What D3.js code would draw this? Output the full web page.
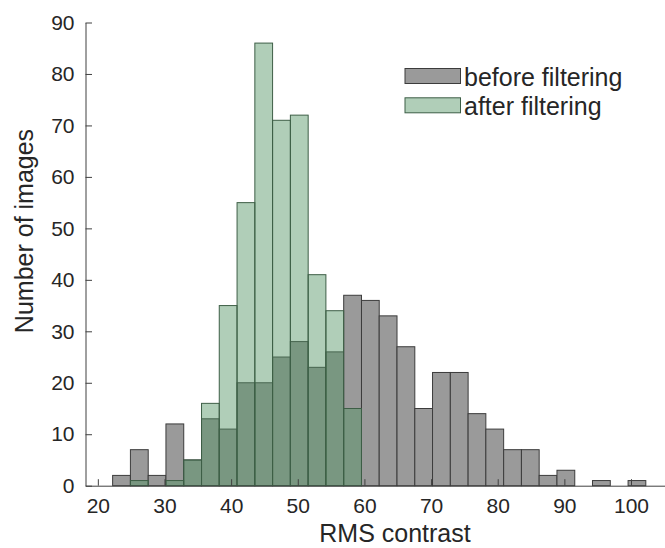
<html>
	<head>
		<title>RMS contrast histogram</title>
		<script src="https://d3js.org/d3.v7.min.js"></script>
		<style>
			body { margin: 0; background-color: white; }
			text { font-family: "Liberation Sans", Arial, sans-serif; fill: #262626; }
		</style>
	</head>
	<body>
		<div id="container"></div>
		<script>
			// histogram bin edges (RMS contrast)
			var binEdges = [22.22, 24.89, 27.56, 30.22, 32.89, 35.56, 38.22, 40.89, 43.56, 46.22,
				48.89, 51.56, 54.22, 56.89, 59.56, 62.22, 64.89, 67.56, 70.22, 72.89,
				75.56, 78.22, 80.89, 83.56, 86.22, 88.89, 91.56, 94.22, 96.89, 99.56, 102.22];
			var beforeCounts = [2, 7, 2, 12, 5, 13, 11, 20, 20, 25, 28, 23, 26, 37, 36,
				33, 27, 15, 22, 22, 14, 11, 7, 7, 2, 3, 0, 1, 0, 1];
			var afterCounts = [0, 1, 0, 1, 5, 16, 35, 55, 86, 71, 72, 41, 34, 15, 0,
				0, 0, 0, 0, 0, 0, 0, 0, 0, 0, 0, 0, 0, 0, 0];
			var xTicks = [20, 30, 40, 50, 60, 70, 80, 90, 100];
			var yTicks = [0, 10, 20, 30, 40, 50, 60, 70, 80, 90];
			var seriesNames = ["before filtering", "after filtering"];

			const width = 665;
			const height = 548;

			const svg = d3.select("div#container").append("svg")
				.attr("width", width)
				.attr("height", height);

			var x = d3.scaleLinear().domain([18.15, 105.1]).range([85.5, 665]);
			var y = d3.scaleLinear().domain([0, 90]).range([485.7, 22.5]);

			function bins(counts) {
				var out = [];
				for (var i = 0; i < counts.length; i++) {
					if (counts[i] > 0) out.push({x0: binEdges[i], x1: binEdges[i + 1], n: counts[i]});
				}
				return out;
			}

			// before filtering (gray)
			svg.append("g").selectAll("rect")
				.data(bins(beforeCounts))
				.enter().append("rect")
				.attr("x", function(d) { return x(d.x0); })
				.attr("y", function(d) { return y(d.n); })
				.attr("width", function(d) { return x(d.x1) - x(d.x0); })
				.attr("height", function(d) { return y(0) - y(d.n); })
				.attr("fill", "#9a9a9a")
				.attr("stroke", "#3c3c3c")
				.attr("stroke-width", 1);

			// after filtering (green, transparent)
			svg.append("g").selectAll("rect")
				.data(bins(afterCounts))
				.enter().append("rect")
				.attr("x", function(d) { return x(d.x0); })
				.attr("y", function(d) { return y(d.n); })
				.attr("width", function(d) { return x(d.x1) - x(d.x0); })
				.attr("height", function(d) { return y(0) - y(d.n); })
				.attr("fill", "rgb(83,148,101)")
				.attr("fill-opacity", 0.46)
				.attr("stroke", "#3d5e46")
				.attr("stroke-width", 1);

			// axes, ticks pointing inward
			var gx = svg.append("g")
				.attr("transform", "translate(0," + y(0) + ")")
				.call(d3.axisBottom(x).tickValues(xTicks).tickSizeInner(-6.5).tickSizeOuter(0).tickPadding(12));
			var gy = svg.append("g")
				.attr("transform", "translate(" + x.range()[0] + ",0)")
				.call(d3.axisLeft(y).tickValues(yTicks).tickSizeInner(-6.5).tickSizeOuter(0).tickPadding(11));
			[gx, gy].forEach(function(g) {
				g.select(".domain").attr("stroke", "#404040");
				g.selectAll(".tick line").attr("stroke", "#404040");
				g.selectAll(".tick text")
					.style("font-size", "21px")
					.attr("fill", "#262626")
					.attr("font-family", "Liberation Sans, Arial, sans-serif");
			});

			svg.append("text")
				.attr("x", 395)
				.attr("y", 542)
				.attr("text-anchor", "middle")
				.style("font-size", "25px")
				.text("RMS contrast");

			svg.append("text")
				.attr("transform", "translate(33,231)rotate(-90)")
				.attr("text-anchor", "middle")
				.style("font-size", "25px")
				.text("Number of images");

			// legend
			var legendFill = ["#9a9a9a", "rgb(83,148,101)"];
			var legendOpacity = [1, 0.46];
			var legendStroke = ["#3c3c3c", "#3d5e46"];
			var legend = svg.append("g").selectAll("g")
				.data(seriesNames)
				.enter().append("g")
				.attr("transform", function(d, i) { return "translate(405," + (68.5 + i * 29.3) + ")"; });
			legend.append("rect")
				.attr("width", 55.5)
				.attr("height", 15)
				.attr("fill", function(d, i) { return legendFill[i]; })
				.attr("fill-opacity", function(d, i) { return legendOpacity[i]; })
				.attr("stroke", function(d, i) { return legendStroke[i]; });
			legend.append("text")
				.attr("x", 59)
				.attr("y", 17)
				.style("font-size", "25px")
				.text(function(d) { return d; });
		</script>
	</body>
</html>
